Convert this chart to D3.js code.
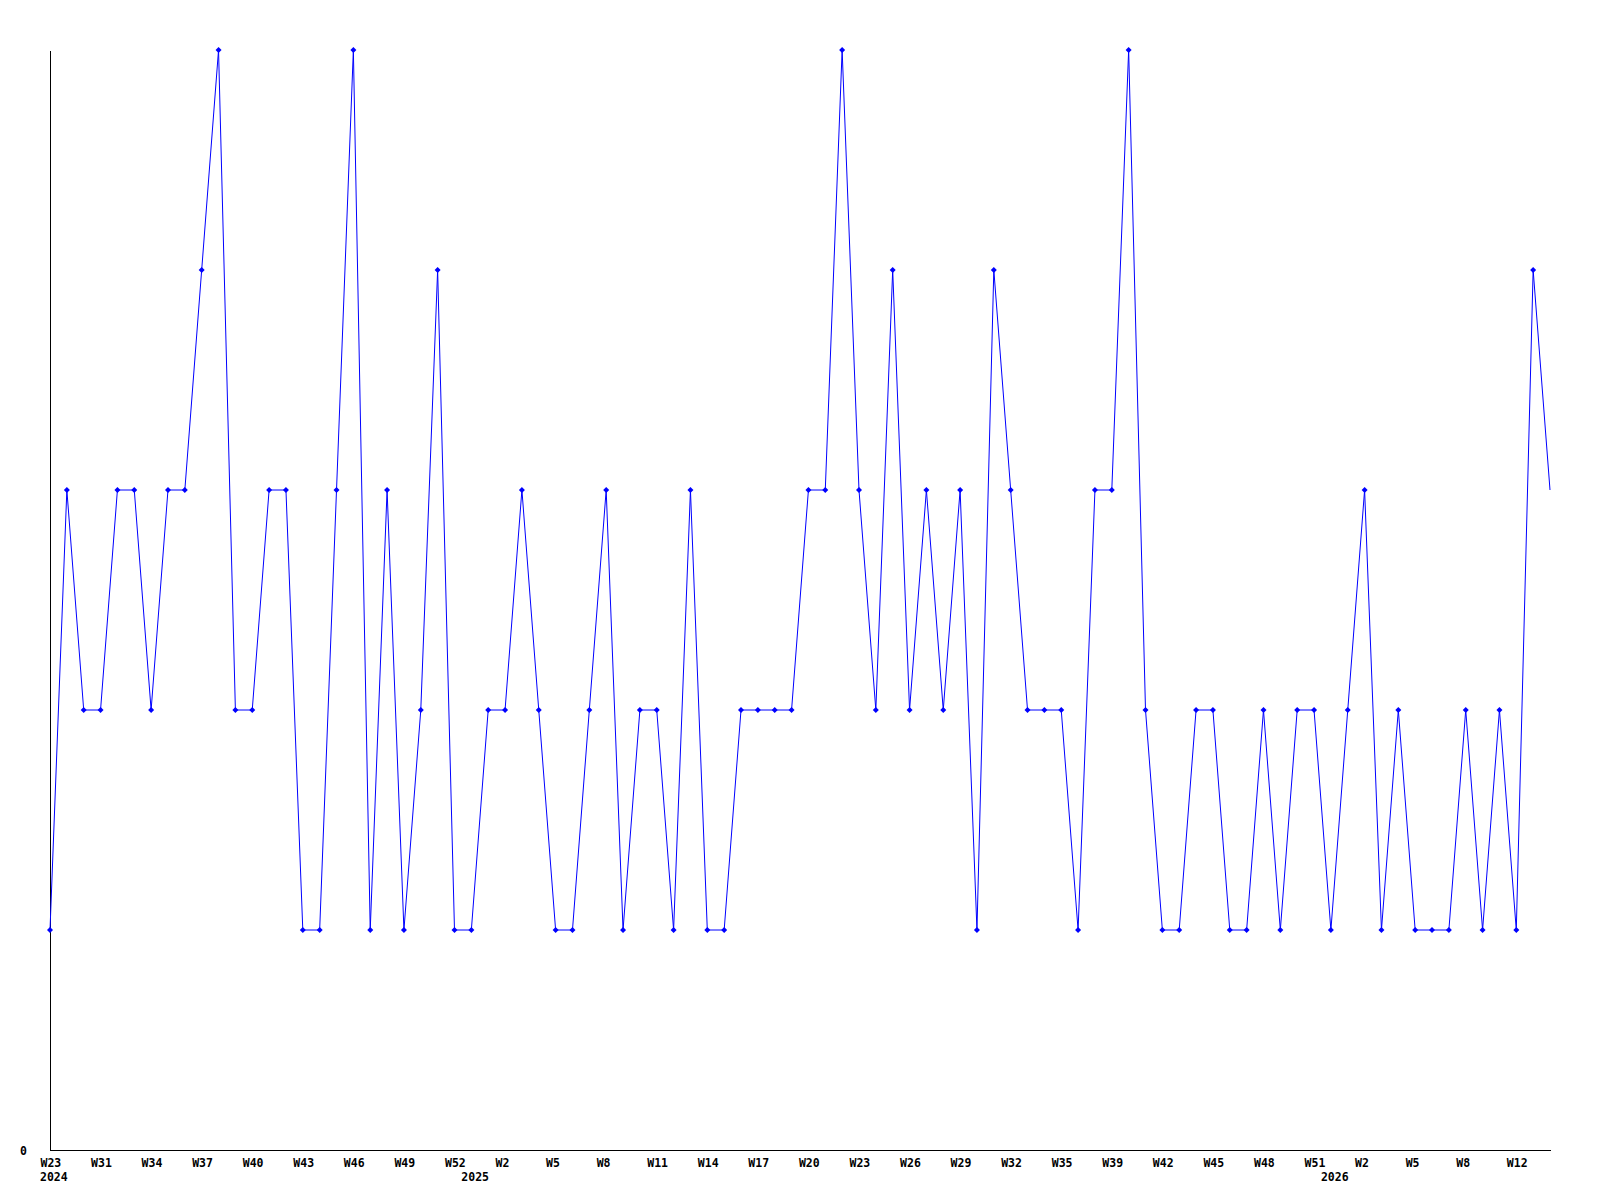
<!doctype html>
<html lang="en">
<head>
  <meta charset="utf-8">
  <title>Weekly counts</title>
  <script src="https://cdn.jsdelivr.net/npm/d3@7"></script>
  <style>
    body { margin: 0; background: #fff; }
    text { font-family: "DejaVu Sans Mono", monospace; font-weight: bold; font-size: 11.5px; }
  </style>
</head>
<body>
  <div id="container"></div>
<script>
  // one value per week
  const values = [
    1, 3, 2, 2, 3, 3, 2, 3, 3, 4,
    5, 2, 2, 3, 3, 1, 1, 3, 5, 1,
    3, 1, 2, 4, 1, 1, 2, 2, 3, 2,
    1, 1, 2, 3, 1, 2, 2, 1, 3, 1,
    1, 2, 2, 2, 2, 3, 3, 5, 3, 2,
    4, 2, 3, 2, 3, 1, 4, 3, 2, 2,
    2, 1, 3, 3, 5, 2, 1, 1, 2, 2,
    1, 1, 2, 1, 2, 2, 1, 2, 3, 1,
    2, 1, 1, 1, 2, 1, 2, 1, 4, 3
  ];

  // week labels, one every third point
  const weekLabels = [
    'W23', 'W31', 'W34', 'W37', 'W40', 'W43', 'W46', 'W49', 'W52', 'W2',
    'W5', 'W8', 'W11', 'W14', 'W17', 'W20', 'W23', 'W26', 'W29', 'W32',
    'W35', 'W39', 'W42', 'W45', 'W48', 'W51', 'W2', 'W5', 'W8', 'W12'
  ];
  const weekTicks = weekLabels.map((d, i) => i * 3);

  const years = ['2024', '2025', '2026'];
  const yearTicks = [0, 25, 76];

  const width = 1600, height = 1200;
  const margin = { left: 50, right: 1550, top: 50, bottom: 1150 };

  const svg = d3.select('#container')
    .append('svg')
    .attr('width', width)
    .attr('height', height);

  svg.append('rect')
    .attr('width', width)
    .attr('height', height)
    .attr('fill', '#fff');

  const x = d3.scaleLinear()
    .domain([0, values.length - 1])
    .range([margin.left, margin.right]);

  const y = d3.scaleLinear()
    .domain([0, d3.max(values)])
    .range([margin.bottom, margin.top]);

  // x axis
  const xAxis = svg.append('g')
    .attr('transform', `translate(0,${margin.bottom})`)
    .call(d3.axisBottom(x)
      .tickValues(weekTicks)
      .tickFormat((d, i) => weekLabels[i])
      .tickSize(0)
      .tickSizeOuter(0));
  xAxis.attr('font-family', null).attr('font-size', null);
  xAxis.select('.domain').attr('stroke', '#000').attr('shape-rendering', 'crispEdges');
  xAxis.selectAll('text')
    .attr('text-anchor', 'start')
    .attr('x', -10)
    .attr('y', 17)
    .attr('dy', null)
    .attr('fill', '#000');

  // year labels
  svg.append('g')
    .selectAll('text')
    .data(years)
    .enter()
    .append('text')
    .attr('x', (d, i) => x(yearTicks[i]) - 10)
    .attr('y', margin.bottom + 31)
    .attr('fill', '#000')
    .text(d => d);

  // y axis, only the zero is labelled
  const yAxis = svg.append('g')
    .attr('transform', `translate(${margin.left},0)`)
    .call(d3.axisLeft(y)
      .tickValues([0])
      .tickFormat(d3.format('d'))
      .tickSize(0)
      .tickSizeOuter(0));
  yAxis.attr('font-family', null).attr('font-size', null);
  yAxis.select('.domain').attr('stroke', '#000').attr('shape-rendering', 'crispEdges');
  yAxis.selectAll('text')
    .attr('text-anchor', 'start')
    .attr('x', -30)
    .attr('dy', '0.35em')
    .attr('fill', '#000');

  // line
  const line = d3.line()
    .x((d, i) => x(i))
    .y(d => y(d));

  svg.append('path')
    .datum(values)
    .attr('d', line)
    .attr('fill', 'none')
    .attr('stroke', '#0000ff')
    .attr('stroke-width', 1);

  // small diamond markers (the last, still open week has none)
  svg.append('g')
    .selectAll('path')
    .data(values.slice(0, -1))
    .enter()
    .append('path')
    .attr('d', 'M0,-3L3,0L0,3L-3,0Z')
    .attr('transform', (d, i) => `translate(${x(i)},${y(d)})`)
    .attr('fill', '#0000ff');
</script>
</body>
</html>
